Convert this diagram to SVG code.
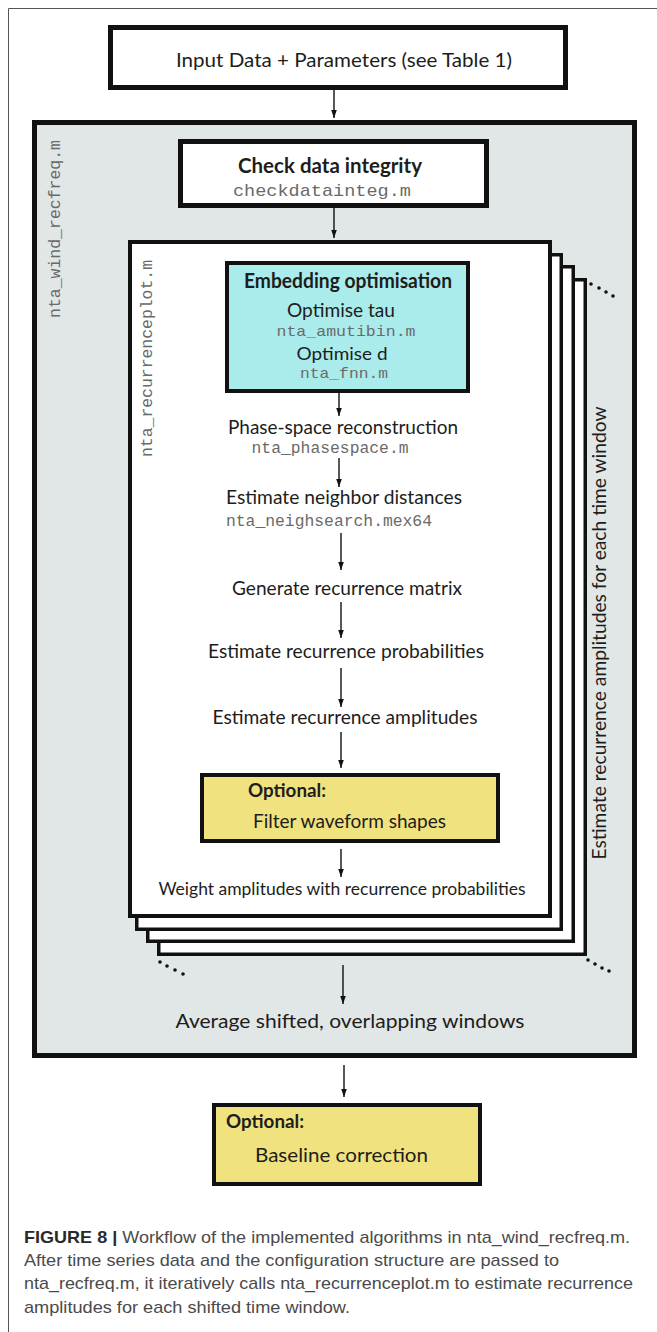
<svg xmlns="http://www.w3.org/2000/svg" width="657" height="1332" viewBox="0 0 657 1332">
<defs>
<marker id="ah" markerWidth="8" markerHeight="11" refX="10" refY="3.5" orient="auto" markerUnits="userSpaceOnUse" viewBox="0 0 10 7"><path d="M0,0 L10,3.5 L0,7 z" fill="#111"/></marker>
<style>
.sans{font-family:Lato,"Open Sans","Liberation Sans",sans-serif;fill:#1d1d1b;}
.semi{font-family:Lato,"Open Sans","Liberation Sans",sans-serif;font-weight:700;fill:#1d1d1b;}
.mono{font-family:"Liberation Mono","DejaVu Sans Mono",monospace;fill:#6a6a6a;}
.cap{font-family:"Liberation Sans",Arial,sans-serif;fill:#4a4a4a;font-size:17px;}
.box{fill:#fff;stroke:#111;}
.conn line{stroke:#111;stroke-width:1.4;marker-end:url(#ah);}
</style>
</defs>
<rect x="0" y="0" width="657" height="1332" fill="#fff"/>
<path d="M8.5,1332 V8.5 H657" fill="none" stroke="#555" stroke-width="1"/>

<g id="input">
<rect x="110.5" y="27.5" width="455" height="60" class="box" stroke-width="5"/>
<text x="344" y="67" class="sans" font-size="19" text-anchor="middle" textLength="336" lengthAdjust="spacingAndGlyphs">Input Data + Parameters (see Table 1)</text>
</g>

<g id="wind">
<rect x="34.5" y="122.5" width="600" height="933" fill="#e1e6e6" stroke="#111" stroke-width="5"/>
<text transform="translate(60,318) rotate(-90)" class="mono" font-size="16" textLength="178" lengthAdjust="spacingAndGlyphs">nta_wind_recfreq.m</text>
</g>

<g id="check">
<rect x="180.5" y="141.5" width="306" height="64" class="box" stroke-width="5"/>
<text x="330" y="173" class="semi" font-size="20" text-anchor="middle" textLength="184" lengthAdjust="spacingAndGlyphs">Check data integrity</text>
<text x="322" y="196" class="mono" font-size="17" text-anchor="middle" textLength="178" lengthAdjust="spacingAndGlyphs">checkdatainteg.m</text>
</g>

<g id="stack">
<rect x="158.75" y="279.75" width="426.5" height="674.5" class="box" stroke-width="3.5"/>
<rect x="147.75" y="266.75" width="425.5" height="674.5" class="box" stroke-width="3.5"/>
<rect x="136.75" y="254.75" width="424.5" height="674.5" class="box" stroke-width="3.5"/>
<rect x="130" y="242" width="420" height="674" class="box" stroke-width="4"/>
<g fill="#111">
<circle cx="591" cy="284" r="1.8"/><circle cx="599" cy="288" r="1.8"/><circle cx="606" cy="292" r="1.8"/><circle cx="613" cy="296" r="1.8"/>
<circle cx="588" cy="960" r="1.8"/><circle cx="595" cy="964" r="1.8"/><circle cx="602" cy="968" r="1.8"/><circle cx="609" cy="971" r="1.8"/>
<circle cx="160" cy="962" r="1.8"/><circle cx="167" cy="966" r="1.8"/><circle cx="175" cy="970" r="1.8"/><circle cx="183" cy="974" r="1.8"/>
</g>
<text transform="translate(152,457) rotate(-90)" class="mono" font-size="16" textLength="197" lengthAdjust="spacingAndGlyphs">nta_recurrenceplot.m</text>
<text transform="translate(606,633) rotate(-90)" class="sans" font-size="20" text-anchor="middle" textLength="453" lengthAdjust="spacingAndGlyphs">Estimate recurrence amplitudes for each time window</text>
</g>

<g id="embedding">
<rect x="227" y="263" width="241" height="128" fill="#aaeceb" stroke="#111" stroke-width="4"/>
<text x="348" y="288" class="semi" font-size="20" text-anchor="middle" textLength="208" lengthAdjust="spacingAndGlyphs">Embedding optimisation</text>
<text x="341" y="317" class="sans" font-size="19" text-anchor="middle" textLength="108" lengthAdjust="spacingAndGlyphs">Optimise tau</text>
<text x="346" y="336" class="mono" font-size="15" text-anchor="middle" textLength="139" lengthAdjust="spacingAndGlyphs">nta_amutibin.m</text>
<text x="342" y="360" class="sans" font-size="18" text-anchor="middle" textLength="91" lengthAdjust="spacingAndGlyphs">Optimise d</text>
<text x="344" y="378" class="mono" font-size="15" text-anchor="middle" textLength="88" lengthAdjust="spacingAndGlyphs">nta_fnn.m</text>
</g>

<g id="phasespace">
<text x="343" y="434" class="sans" font-size="19" text-anchor="middle" textLength="230" lengthAdjust="spacingAndGlyphs">Phase-space reconstruction</text>
<text x="330" y="453" class="mono" font-size="16" text-anchor="middle" textLength="157" lengthAdjust="spacingAndGlyphs">nta_phasespace.m</text>
</g>
<g id="neighbor">
<text x="344" y="504" class="sans" font-size="19" text-anchor="middle" textLength="236" lengthAdjust="spacingAndGlyphs">Estimate neighbor distances</text>
<text x="329" y="526" class="mono" font-size="16" text-anchor="middle" textLength="206" lengthAdjust="spacingAndGlyphs">nta_neighsearch.mex64</text>
</g>
<g id="matrix">
<text x="347" y="595" class="sans" font-size="19" text-anchor="middle" textLength="230" lengthAdjust="spacingAndGlyphs">Generate recurrence matrix</text>
</g>
<g id="probabilities">
<text x="346" y="658" class="sans" font-size="19" text-anchor="middle" textLength="276" lengthAdjust="spacingAndGlyphs">Estimate recurrence probabilities</text>
</g>
<g id="amplitudes">
<text x="345" y="724" class="sans" font-size="19" text-anchor="middle" textLength="265" lengthAdjust="spacingAndGlyphs">Estimate recurrence amplitudes</text>
</g>
<g id="filter">
<rect x="202" y="775" width="296" height="66" fill="#f0e27e" stroke="#111" stroke-width="4"/>
<text x="248" y="797" class="semi" font-size="19" textLength="78" lengthAdjust="spacingAndGlyphs">Optional:</text>
<text x="253" y="828" class="sans" font-size="19" textLength="193" lengthAdjust="spacingAndGlyphs">Filter waveform shapes</text>
</g>
<g id="weight">
<text x="342" y="895" class="sans" font-size="17" text-anchor="middle" textLength="367" lengthAdjust="spacingAndGlyphs">Weight amplitudes with recurrence probabilities</text>
</g>
<g id="average">
<text x="350" y="1028" class="sans" font-size="20" text-anchor="middle" textLength="349" lengthAdjust="spacingAndGlyphs">Average shifted, overlapping windows</text>
</g>
<g id="baseline">
<rect x="214" y="1105" width="266" height="79" fill="#f0e27e" stroke="#111" stroke-width="4"/>
<text x="226" y="1128" class="semi" font-size="19" textLength="78" lengthAdjust="spacingAndGlyphs">Optional:</text>
<text x="255" y="1162" class="sans" font-size="20" textLength="173" lengthAdjust="spacingAndGlyphs">Baseline correction</text>
</g>

<g id="connectors" class="conn">
<line x1="334" y1="90" x2="334" y2="118"/>
<line x1="334" y1="208" x2="334" y2="238"/>
<line x1="339" y1="393" x2="339" y2="416"/>
<line x1="339" y1="458" x2="339" y2="487"/>
<line x1="341" y1="533" x2="341" y2="570"/>
<line x1="341" y1="602" x2="341" y2="638"/>
<line x1="341" y1="668" x2="341" y2="707"/>
<line x1="341" y1="732" x2="341" y2="768"/>
<line x1="341" y1="849" x2="341" y2="877"/>
<line x1="343" y1="965" x2="343" y2="1004"/>
<line x1="344" y1="1065" x2="344" y2="1097"/>
</g>

<g id="caption">
<text x="24" y="1243" class="cap" textLength="606" lengthAdjust="spacingAndGlyphs"><tspan font-weight="700" fill="#2a2a2a">FIGURE 8 | </tspan>Workflow of the implemented algorithms in nta_wind_recfreq.m.</text>
<text x="24" y="1266" class="cap" textLength="535" lengthAdjust="spacingAndGlyphs">After time series data and the configuration structure are passed to</text>
<text x="24" y="1289" class="cap" textLength="609" lengthAdjust="spacingAndGlyphs">nta_recfreq.m, it iteratively calls nta_recurrenceplot.m to estimate recurrence</text>
<text x="24" y="1313" class="cap" textLength="326" lengthAdjust="spacingAndGlyphs">amplitudes for each shifted time window.</text>
</g>
</svg>
